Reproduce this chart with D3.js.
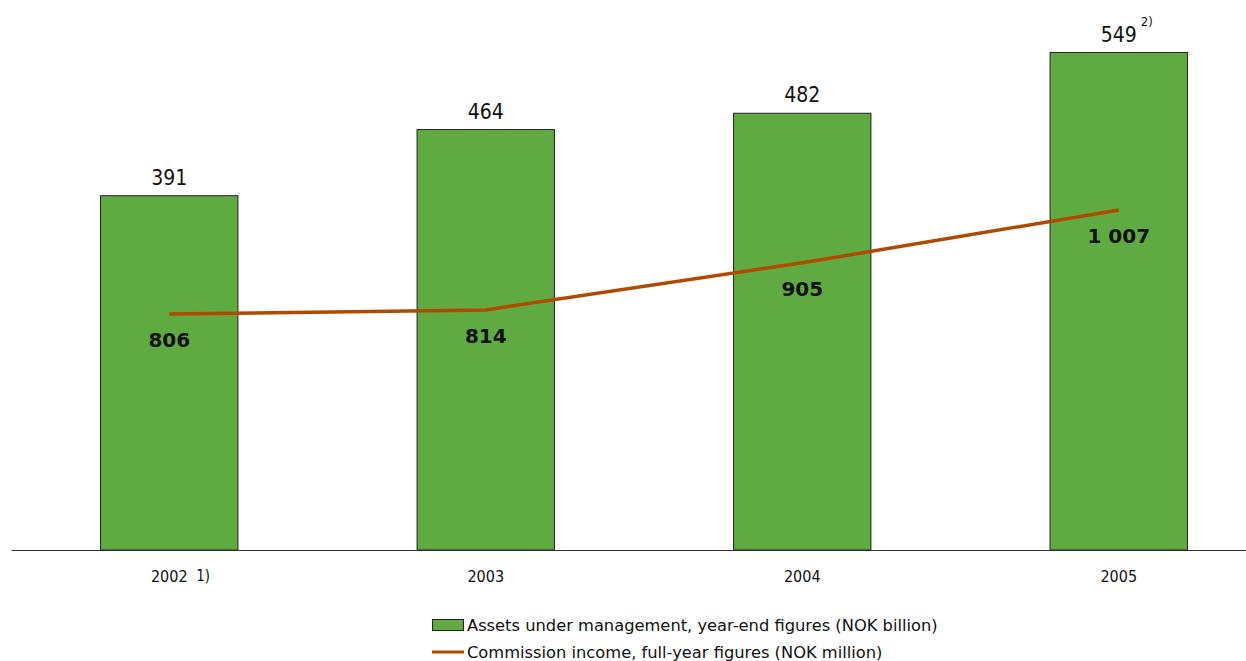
<!DOCTYPE html>
<html>
<head>
<meta charset="utf-8">
<script src="https://cdn.jsdelivr.net/npm/d3@7"></script>
<style>
  body { margin: 0; background: #fff; }
  #chart { font-family: "DejaVu Sans Condensed", "DejaVu Sans", sans-serif; }
</style>
</head>
<body>
<div id="chart"></div>
<script>
const years = ["2002", "2003", "2004", "2005"];
const yearNotes = ["1)", "", "", ""];
const assets = [391, 464, 482, 549];
const assetNotes = ["", "", "", "2)"];
const commission = [806, 814, 905, 1007];
const legendLabels = [
  "Assets under management, year-end figures (NOK billion)",
  "Commission income, full-year figures (NOK million)"
];

window.onload = function () {
  const W = 1246, H = 661;
  const base = 550;
  const green = "#5fab42", orange = "#b04a00";

  const data = years.map((y, i) => ({
    year: y, note: yearNotes[i], assets: assets[i],
    aNote: assetNotes[i], comm: commission[i]
  }));

  const fmt = d3.formatLocale({ decimal: ",", thousands: " ", grouping: [3], currency: ["", ""] }).format(",");

  const svg = d3.select("#chart").append("svg")
    .attr("width", W).attr("height", H);

  const x = d3.scaleBand().domain(years).range([11, 1277])
    .paddingInner(0.566).paddingOuter(0.283);
  const y = d3.scaleLinear().domain([0, 607]).range([base, 0]);
  const y2 = d3.scaleLinear().domain([0, 1413]).range([731, 0]);
  const cx = d => x(d.year) + x.bandwidth() / 2;

  // bars
  svg.selectAll(".bar").data(data).enter().append("rect")
    .attr("class", "bar")
    .attr("x", d => x(d.year))
    .attr("y", d => y(d.assets))
    .attr("width", x.bandwidth())
    .attr("height", d => base - y(d.assets))
    .style("fill", green)
    .style("stroke", "#222")
    .style("stroke-width", 1);

  // axis
  const ax = svg.append("g")
    .attr("transform", `translate(0,${base})`)
    .call(d3.axisBottom(x).tickSize(0).tickPadding(21));
  ax.select(".domain").attr("stroke", "#333");
  ax.selectAll("text").style("font-size", "16px").style("fill", "#111")
    .style("font-family", "\"DejaVu Sans Condensed\", \"DejaVu Sans\", sans-serif");

  svg.selectAll(".xnote").data(data.filter(d => d.note)).enter().append("text")
    .attr("x", d => cx(d) + 27).attr("y", 581)
    .style("font-size", "15px").style("fill", "#111")
    .text(d => d.note);

  // bar value labels
  svg.selectAll(".alab").data(data).enter().append("text")
    .attr("x", cx).attr("y", d => y(d.assets) - 11)
    .attr("text-anchor", "middle")
    .style("font-size", "21px").style("fill", "#111")
    .text(d => d.assets);

  svg.selectAll(".anote").data(data.filter(d => d.aNote)).enter().append("text")
    .attr("x", d => cx(d) + 22).attr("y", d => y(d.assets) - 27)
    .style("font-size", "13px").style("fill", "#111")
    .text(d => d.aNote);

  // line
  const line = d3.line().x(cx).y(d => y2(d.comm));
  svg.append("path").datum(data)
    .attr("d", line)
    .style("fill", "none")
    .style("stroke", orange)
    .style("stroke-width", 3.5);

  svg.selectAll(".clab").data(data).enter().append("text")
    .attr("x", cx).attr("y", d => y2(d.comm) + 33)
    .attr("text-anchor", "middle")
    .style("font-family", "\"DejaVu Sans\", sans-serif")
    .style("font-size", "20px").style("font-weight", "bold").style("fill", "#111")
    .text(d => fmt(d.comm));

  // legend
  const lg = svg.append("g").attr("transform", "translate(432,0)")
    .style("font-family", "\"DejaVu Sans\", sans-serif");
  lg.append("rect").attr("x", 0.5).attr("y", 619.5).attr("width", 31).attr("height", 11)
    .style("fill", green).style("stroke", "#222");
  lg.append("text").attr("x", 35).attr("y", 631)
    .style("font-size", "16.3px").style("fill", "#111").text(legendLabels[0]);
  lg.append("line").attr("x1", 0).attr("x2", 32).attr("y1", 652).attr("y2", 652)
    .style("stroke", orange).style("stroke-width", 3);
  lg.append("text").attr("x", 35).attr("y", 658)
    .style("font-size", "16.3px").style("fill", "#111").text(legendLabels[1]);
};
</script>
</body>
</html>
